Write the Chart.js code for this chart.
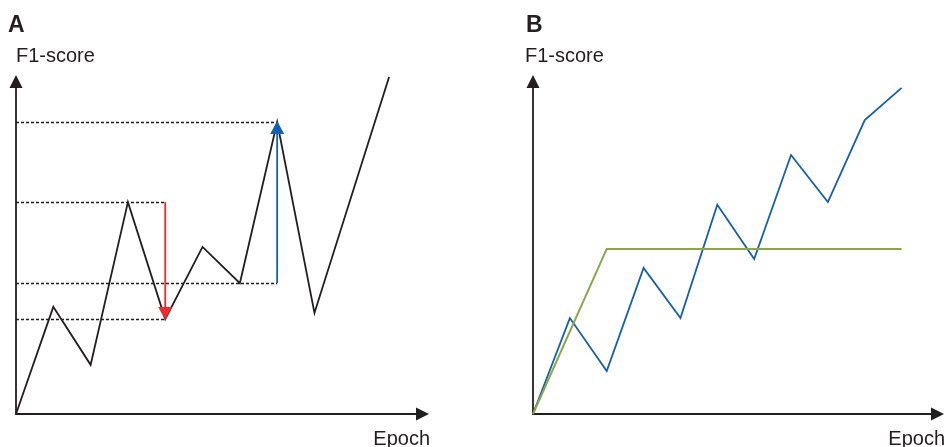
<!DOCTYPE html>
<html>
<head>
<meta charset="utf-8">
<script src="https://cdn.jsdelivr.net/npm/chart.js@4/dist/chart.umd.min.js"></script>
<style>
  html, body { margin: 0; padding: 0; background: #fff; }
  .panel { position: absolute; top: 0; width: 474px; height: 447px; }
  #panelA { left: 0; }
  #panelB { left: 474px; }
</style>
</head>
<body>
<div class="panel" id="panelA"><canvas id="chartA"></canvas></div>
<div class="panel" id="panelB"><canvas id="chartB"></canvas></div>
<script>
// Panel A: a single noisy F1 curve
const epochsA = [0, 1, 2, 3, 4, 5, 6, 7, 8, 10];
const f1A = [0, 0.316, 0.145, 0.625, 0.28, 0.493, 0.386, 0.861, 0.298, 0.994];

// Panel B: noisy curve vs. early-plateau curve
const epochsBlue = [0, 1, 2, 3, 4, 5, 6, 7, 8, 9, 10];
const f1Blue = [0, 0.283, 0.127, 0.431, 0.283, 0.617, 0.457, 0.764, 0.625, 0.867, 0.962];
const epochsGreen = [0, 2, 10];
const f1Green = [0, 0.487, 0.487];

// dashed guides in A: [point giving the level, point giving the end x]
const guidesA = [[7, 7], [3, 4], [6, 7], [4, 4]];
// arrows in A: [point giving x, start level point, end level point, colour]
const arrowsA = [[4, 3, 4, '#ee2a2f'], [7, 6, 7, '#1560ad']];

const INK = '#231f20';
const FONT = '"Liberation Sans", Arial, sans-serif';

function toPoints(xs, ys) {
  return xs.map((x, i) => ({ x, y: ys[i] }));
}

function tri(ctx, tipX, tipY, dx, dy, len, half) {
  // dx, dy: unit direction the arrow points to
  const bx = tipX - dx * len;
  const by = tipY - dy * len;
  ctx.beginPath();
  ctx.moveTo(tipX, tipY);
  ctx.lineTo(bx - dy * half, by + dx * half);
  ctx.lineTo(bx + dy * half, by - dx * half);
  ctx.closePath();
  ctx.fill();
}

const axesPlugin = {
  id: 'axesArrows',
  beforeDatasetsDraw(chart, args, opts) {
    const { ctx, chartArea: a } = chart;
    ctx.save();
    ctx.strokeStyle = INK;
    ctx.fillStyle = INK;
    ctx.lineWidth = 1.8;
    ctx.beginPath();
    ctx.moveTo(a.left, a.top + 10);
    ctx.lineTo(a.left, a.bottom);
    ctx.lineTo(a.right - 10, a.bottom);
    ctx.stroke();
    tri(ctx, a.left, a.top, 0, -1, 13, 6.5);
    tri(ctx, a.right, a.bottom, 1, 0, 13, 6.5);

    ctx.font = 'bold 23px ' + FONT;
    ctx.textBaseline = 'alphabetic';
    ctx.textAlign = 'left';
    ctx.fillText(opts.letter, a.left + opts.letterDx, 32);
    ctx.font = '20px ' + FONT;
    ctx.fillText('F1-score', a.left + opts.labelDx, 62);
    ctx.textAlign = 'right';
    ctx.fillText('Epoch', a.right + 1, 445);

    const xs = chart.scales.x;
    const ys = chart.scales.y;
    (opts.guides || []).forEach(([lv, end]) => {
      const y = Math.round(ys.getPixelForValue(opts.yv[lv])) + 0.5;
      ctx.strokeStyle = INK;
      ctx.lineWidth = 1.4;
      ctx.setLineDash([3, 2]);
      ctx.beginPath();
      ctx.moveTo(a.left, y);
      ctx.lineTo(xs.getPixelForValue(opts.xv[end]), y);
      ctx.stroke();
    });
    ctx.setLineDash([]);
    ctx.restore();
  },
  afterDatasetsDraw(chart, args, opts) {
    const { ctx } = chart;
    const xs = chart.scales.x;
    const ys = chart.scales.y;
    ctx.save();
    (opts.arrows || []).forEach(([at, from, to, color]) => {
      const x = xs.getPixelForValue(opts.xv[at]);
      const y0 = ys.getPixelForValue(opts.yv[from]);
      const y1 = ys.getPixelForValue(opts.yv[to]);
      const dir = y1 > y0 ? 1 : -1;
      ctx.strokeStyle = color;
      ctx.fillStyle = color;
      ctx.lineWidth = 1.8;
      ctx.beginPath();
      ctx.moveTo(x, y0);
      ctx.lineTo(x, y1 - dir * 10);
      ctx.stroke();
      tri(ctx, x, y1 + dir * 1, 0, dir, 13, 7);
    });
    ctx.restore();
  }
};

function makeChart(id, datasets, xMax, padding, pluginOpts) {
  return new Chart(document.getElementById(id), {
    type: 'line',
    data: { datasets },
    options: {
      responsive: true,
      maintainAspectRatio: false,
      animation: false,
      layout: { padding },
      scales: {
        x: { type: 'linear', min: 0, max: xMax, display: false },
        y: { type: 'linear', min: 0, max: 1, display: false },
      },
      plugins: {
        legend: { display: false },
        tooltip: { enabled: false },
        axesArrows: pluginOpts,
      },
    },
    plugins: [axesPlugin],
  });
}

const lineStyle = (color, width) => ({
  borderColor: color,
  borderWidth: width,
  pointRadius: 0,
  tension: 0,
  fill: false,
  clip: false,
  borderJoinStyle: 'miter',
});

makeChart('chartA', [
  { label: 'F1', data: toPoints(epochsA, f1A), ...lineStyle(INK, 1.8) },
], 11.07, { left: 16, right: 45, top: 75, bottom: 33 },
  { letter: 'A', letterDx: -8, labelDx: 0, guides: guidesA, arrows: arrowsA, xv: epochsA, yv: f1A });

makeChart('chartB', [
  { label: 'Plateau', data: toPoints(epochsGreen, f1Green), ...lineStyle('#8aa84a', 2) },
  { label: 'Noisy', data: toPoints(epochsBlue, f1Blue), ...lineStyle('#1560ad', 1.8) },
], 11.15, { left: 59, right: 4, top: 75, bottom: 33 },
  { letter: 'B', letterDx: -7, labelDx: -8, guides: [], arrows: [], xv: epochsBlue, yv: f1Blue });
</script>
</body>
</html>
